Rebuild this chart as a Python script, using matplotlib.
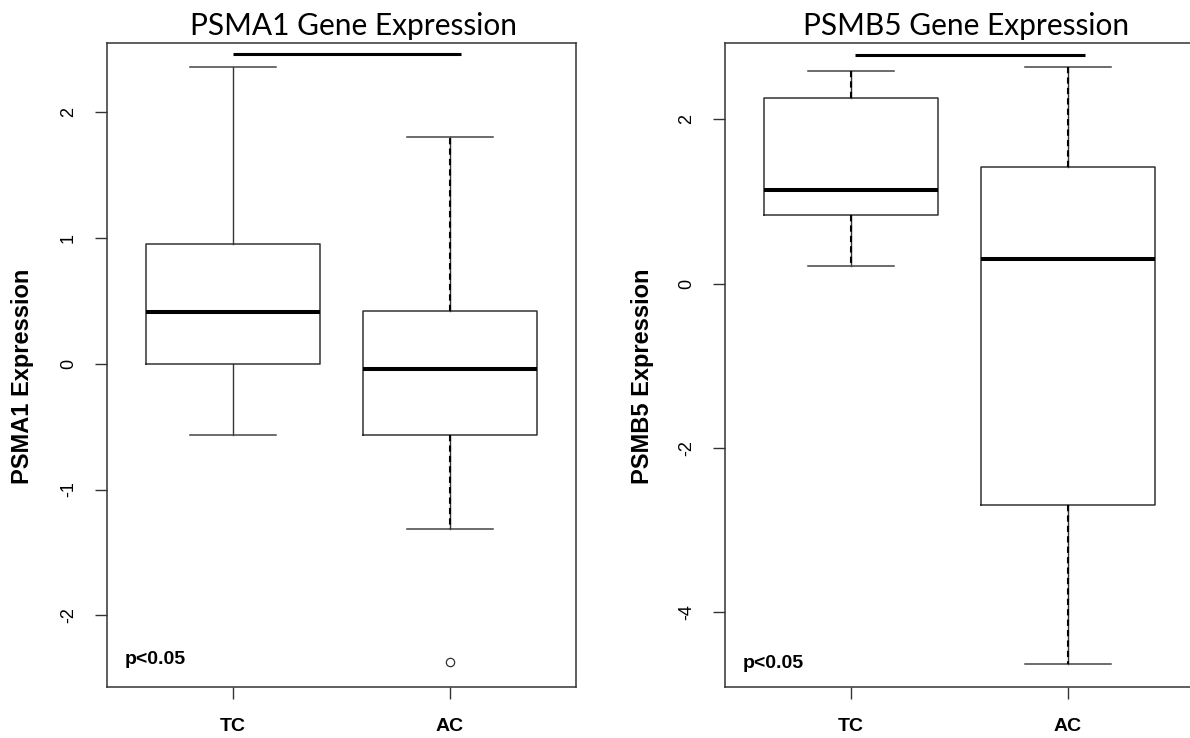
import numpy as np
import matplotlib
matplotlib.use("Agg")
import matplotlib.pyplot as plt

plt.rcParams['font.family'] = ['Liberation Sans', 'DejaVu Sans']
plt.rcParams['axes.unicode_minus'] = False

# Groups on the x axis.
groups = ['TC', 'AC']

# PSMA1 box statistics (TC, AC).
psma1_whislo = [-0.57, -1.31]
psma1_q1 = [0.00, -0.57]
psma1_med = [0.41, -0.04]
psma1_q3 = [0.95, 0.42]
psma1_whishi = [2.36, 1.80]
psma1_fliers = [[], [-2.37]]
psma1_ticks = [-2, -1, 0, 1, 2]

# PSMB5 box statistics (TC, AC).
psmb5_whislo = [0.21, -4.63]
psmb5_q1 = [0.83, -2.70]
psmb5_med = [1.14, 0.30]
psmb5_q3 = [2.26, 1.42]
psmb5_whishi = [2.59, 2.64]
psmb5_fliers = [[], []]
psmb5_ticks = [-4, -2, 0, 2]

# Significance bars: x start, x end, y.
psma1_bar = [1.0, 2.05, 2.46]
psmb5_bar = [1.02, 2.08, 2.78]

p_text = 'p<0.05'

panels = [
    {
        'gene': 'PSMA1',
        'stats': [psma1_whislo, psma1_q1, psma1_med, psma1_q3, psma1_whishi, psma1_fliers],
        'ticks': psma1_ticks,
        'bar': psma1_bar,
        'ylim': (-2.57, 2.55),
        'p_y': -2.35,
        'dashed': [False, True],
        'pos': [107 / 1190, 51 / 738, 469 / 1190, 644 / 738],
        'title_x': 354,
        'ylab_x': 23,
    },
    {
        'gene': 'PSMB5',
        'stats': [psmb5_whislo, psmb5_q1, psmb5_med, psmb5_q3, psmb5_whishi, psmb5_fliers],
        'ticks': psmb5_ticks,
        'bar': psmb5_bar,
        'ylim': (-4.91, 2.93),
        'p_y': -4.62,
        'dashed': [True, True],
        'pos': [725 / 1190, 51 / 738, 469 / 1190, 644 / 738],
        'title_x': 966,
        'ylab_x': 642,
    },
]

fig = plt.figure(figsize=(11.9, 7.38), dpi=100)
line_col = '#333333'

for p in panels:
    ax = fig.add_axes(p['pos'])
    whislo, q1, med, q3, whishi, fliers = p['stats']
    stats = []
    for i, g in enumerate(groups):
        stats.append(dict(whislo=whislo[i], q1=q1[i], med=med[i], q3=q3[i],
                          whishi=whishi[i], fliers=fliers[i], label=g))

    res = ax.bxp(stats, positions=[1, 2], widths=0.8, manage_ticks=False,
                 boxprops=dict(color=line_col, lw=1.1),
                 medianprops=dict(color='black', lw=2.9),
                 whiskerprops=dict(color=line_col, lw=1.0),
                 capprops=dict(color='#444444', lw=1.1),
                 flierprops=dict(marker='o', mfc='none', mec=line_col, ms=6, mew=0.9))

    # Dashed whiskers drawn over the solid ones.
    for i, is_dashed in enumerate(p['dashed']):
        if is_dashed:
            for w in res['whiskers'][2 * i:2 * i + 2]:
                ax.plot(w.get_xdata(), w.get_ydata(), color='black', lw=1.5,
                        ls=(0, (3, 2)))

    # Significance bar.
    x0, x1, yb = p['bar']
    ax.plot([x0, x1], [yb, yb], color='black', lw=2.2, solid_capstyle='butt')

    ax.text(0.5, p['p_y'], p_text, fontsize=14, fontweight='bold', va='center', ha='left')

    ax.set_xlim(0.42, 2.58)
    ax.set_ylim(*p['ylim'])
    ax.set_xticks([1, 2])
    ax.set_xticklabels(groups, fontsize=14, fontweight='bold')
    ax.set_yticks(p['ticks'])
    ax.set_yticklabels([str(t) for t in p['ticks']], rotation=90, va='center', fontsize=13)
    ax.tick_params(axis='both', length=8.6, width=1.0, color=line_col)
    ax.tick_params(axis='x', pad=14)
    ax.tick_params(axis='y', pad=13)
    for s in ax.spines.values():
        s.set_color(line_col)
        s.set_linewidth(1.1)

    fig.text(p['ylab_x'] / 1190, (738 - 376) / 738, p['gene'] + ' Expression',
             rotation=90, fontsize=17, fontweight='bold', ha='center', va='center')
    fig.text(p['title_x'] / 1190, 1 - 35 / 738, p['gene'] + ' Gene Expression',
             fontsize=21.5, family='Lato', ha='center', va='baseline')

plt.savefig('out.png', dpi=100)
